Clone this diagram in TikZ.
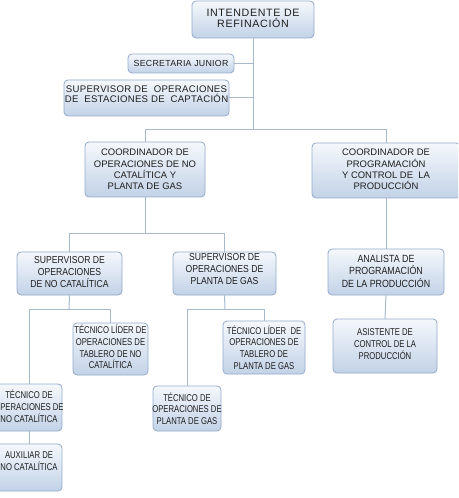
\documentclass[tikz,border=0pt]{standalone}
\usepackage{fontspec}
\setmainfont{Liberation Sans}
\newfontfamily\fwide[LetterSpace=6]{Liberation Sans}
\newfontfamily\fmid[LetterSpace=3]{Liberation Sans}
\newfontfamily\fnarrow[FakeStretch=0.78]{Liberation Sans}
\newfontfamily\fnarrowb[FakeStretch=0.85]{Liberation Sans}
\definecolor{boxline}{HTML}{93AACA}
\definecolor{boxtop}{HTML}{F5F8FC}
\definecolor{boxbot}{HTML}{C2D2E7}
\definecolor{conn}{HTML}{A8B9CE}
\definecolor{ink}{HTML}{1E1E1E}
\tikzset{
  box/.style={draw=boxline, line width=0.6pt, rounded corners=3pt, top color=boxtop, bottom color=boxbot, inner sep=0pt},
  txt/.style={align=center, text=ink, inner sep=0pt},
  tA/.style={txt, font=\fwide\fontsize{8}{8.6}\selectfont},
  tS/.style={txt, font=\fmid\fontsize{6.6}{7.4}\selectfont},
  tB/.style={txt, font=\fmid\fontsize{7.2}{7.6}\selectfont},
  tC/.style={txt, font=\fontsize{7.1}{8.6}\selectfont},
  tD/.style={txt, font=\fnarrowb\fontsize{7.6}{9}\selectfont},
  tE/.style={txt, font=\fnarrow\fontsize{7.4}{8.8}\selectfont},
  tF/.style={txt, font=\fnarrowb\fontsize{7.8}{9.4}\selectfont},
  link/.style={draw=conn, line width=0.75pt}
}
\newcommand\bx[7]{%
  \node[box, minimum width={(#4-#2)*0.75pt}, minimum height={(#5-#3)*0.75pt}] (#1) at ({(#2+#4)/2},{(#3+#5)/2}) {};
  \node[#6] (#1-t) at (#1.center) {#7};}
\begin{document}
\begin{tikzpicture}[x=0.75pt,y=-0.75pt]
\clip (0,0) rectangle (458,498);
\fill[white] (0,0) rectangle (458,498);
\coordinate (j1) at (253,130);
\coordinate (j2) at (145,234);
\coordinate (j3) at (69,309);
\coordinate (j4) at (225,309);
\bx{int}{192}{1}{314}{38}{tA,yshift=0.75pt}{INTENDENTE DE\\REFINACIÓN}
\bx{sec}{128}{54}{234}{73}{tS}{SECRETARIA JUNIOR}
\bx{sest}{64}{80}{229}{116}{tB,yshift=3pt}{SUPERVISOR DE\ \ OPERACIONES\\DE\ \ ESTACIONES DE\ \ CAPTACIÓN}
\bx{cnc}{85}{142}{205}{197}{tC}{COORDINADOR DE\\OPERACIONES DE NO\\CATALÍTICA Y\\PLANTA DE GAS}
\bx{cp}{312}{143}{460}{198}{tC,yshift=0.75pt}{COORDINADOR DE\\PROGRAMACIÓN\\Y CONTROL DE\ \ LA\\PRODUCCIÓN}
\bx{snc}{17}{252}{122}{295}{tD,yshift=1pt}{SUPERVISOR DE\\OPERACIONES\\DE NO CATALÍTICA}
\bx{sgas}{173}{252}{276}{295}{tD,yshift=3.4pt}{SUPERVISOR DE\\OPERACIONES DE\\PLANTA DE GAS}
\bx{ana}{328}{249}{444}{295}{tF,yshift=0.75pt}{ANALISTA DE\\PROGRAMACIÓN\\DE LA PRODUCCIÓN}
\bx{tlnc}{73}{323}{148}{375}{tE,yshift=1.5pt}{TÉCNICO LÍDER DE\\OPERACIONES DE\\TABLERO DE NO\\CATALÍTICA}
\bx{tlgas}{223}{321}{305}{374}{tE}{TÉCNICO LÍDER\ \ DE\\OPERACIONES DE\\TABLERO DE\\PLANTA DE GAS}
\bx{asis}{333}{319}{437}{373}{tE,yshift=1.5pt}{ASISTENTE DE\\CONTROL DE LA\\PRODUCCIÓN}
\bx{tnc}{-4}{384}{62}{431}{tE,yshift=1pt}{TÉCNICO DE\\OPERACIONES DE\\NO CATALÍTICA}
\bx{aux}{-4}{444}{62}{491}{tE,yshift=5pt}{AUXILIAR DE\\NO CATALÍTICA}
\bx{tgas}{153}{386}{221}{431}{tE}{TÉCNICO DE\\OPERACIONES DE\\PLANTA DE GAS}
\draw[link] (int.south) -- (j1);
\draw[link] (sec.east) -- (sec.east -| int.south);
\draw[link] (sest.east) -- (sest.east -| int.south);
\draw[link] (cnc.north) -- (cnc.north |- j1) -- (cp.north |- j1) -- (cp.north);
\draw[link] (cnc.south) -- (j2);
\draw[link] (snc.north) -- (snc.north |- j2) -- (sgas.north |- j2) -- (sgas.north);
\draw[link] (snc.south) -- (j3);
\draw[link] (tnc.north) -- (tnc.north |- j3) -- (tlnc.north |- j3) -- (tlnc.north);
\draw[link] (tnc.south) -- (aux.north);
\draw[link] (sgas.south) -- (j4);
\draw[link] (tgas.north) -- (tgas.north |- j4) -- (tlgas.north |- j4) -- (tlgas.north);
\draw[link] (cp.south) -- (ana.north);
\draw[link] (ana.south) -- (asis.north);
\end{tikzpicture}
\end{document}
